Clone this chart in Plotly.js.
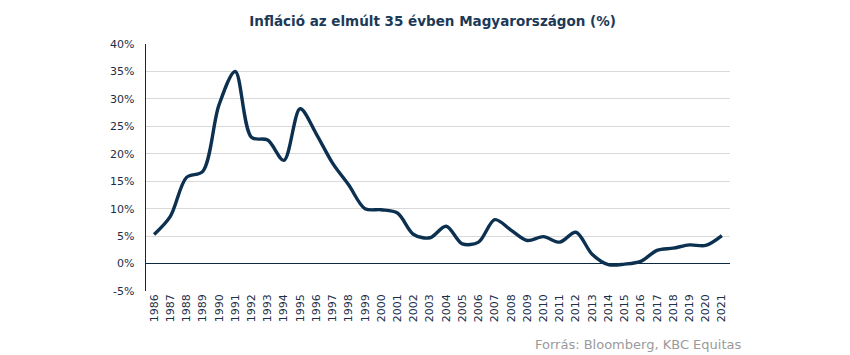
<!DOCTYPE html>
<html><head><meta charset="utf-8">
<script src="https://cdn.plot.ly/plotly-3.0.1.min.js"></script>
<style>body{margin:0;background:#fff}#c{width:850px;height:355px}</style>
</head><body><div id="c"></div>
<script>
const years = ['1986','1987','1988','1989','1990','1991','1992','1993','1994','1995','1996','1997','1998','1999','2000','2001','2002','2003','2004','2005','2006','2007','2008','2009','2010','2011','2012','2013','2014','2015','2016','2017','2018','2019','2020','2021'];
const inflation = [5.3,8.6,15.7,16.8,28.9,35.0,23.0,22.5,18.8,28.2,23.6,18.3,14.3,10.0,9.8,9.2,5.3,4.7,6.8,3.6,3.9,8.0,6.1,4.2,4.9,3.9,5.7,1.7,-0.2,-0.1,0.4,2.4,2.8,3.4,3.3,5.1];
const yTicks = [-5,0,5,10,15,20,25,30,35,40];
const yTickText = yTicks.map(v => v + '%');
const titleText = 'Infláció az elmúlt 35 évben Magyarországon (%)';
const sourceText = 'Forrás: Bloomberg, KBC Equitas';

const trace = {
  x: years, y: inflation, type: 'scatter', mode: 'lines',
  line: {color: '#0c3050', width: 3.4, shape: 'spline', smoothing: 0.9},
  hoverinfo: 'skip'
};
const layout = {
  width: 850, height: 355,
  margin: {l: 146, r: 120, t: 44, b: 64},
  paper_bgcolor: '#fff', plot_bgcolor: '#fff',
  showlegend: false,
  title: {text: titleText, x: 0.509, xanchor: 'center', y: 0.94, yanchor: 'middle',
    font: {family: 'DejaVu Sans', size: 13.5, color: '#1c3a58', weight: 'bold'}},
  xaxis: {type: 'category', tickvals: years, ticktext: years, tickangle: -90,
    showgrid: false, zeroline: false, showline: false, ticks: '',
    tickfont: {family: 'DejaVu Sans', size: 11, color: '#1c2e48'}, range: [-0.5, 35.5]},
  yaxis: {range: [-5, 40], tickvals: yTicks, ticktext: yTickText,
    showgrid: true, gridcolor: '#d9d9d9', gridwidth: 1,
    zeroline: true, zerolinecolor: '#0c2a44', zerolinewidth: 1.2,
    showline: true, linecolor: '#0c2a44', linewidth: 1.3,
    ticks: '', ticklabelstandoff: 8,
    tickfont: {family: 'DejaVu Sans', size: 11, color: '#1c2e48'}},
  annotations: [{text: sourceText, xref: 'paper', yref: 'paper', x: 1.022, y: -0.215,
    xanchor: 'right', yanchor: 'middle', showarrow: false,
    font: {family: 'DejaVu Sans', size: 13, color: '#9a9a9a'}}]
};
Plotly.newPlot('c', [trace], layout, {staticPlot: true, displayModeBar: false});
</script></body></html>
